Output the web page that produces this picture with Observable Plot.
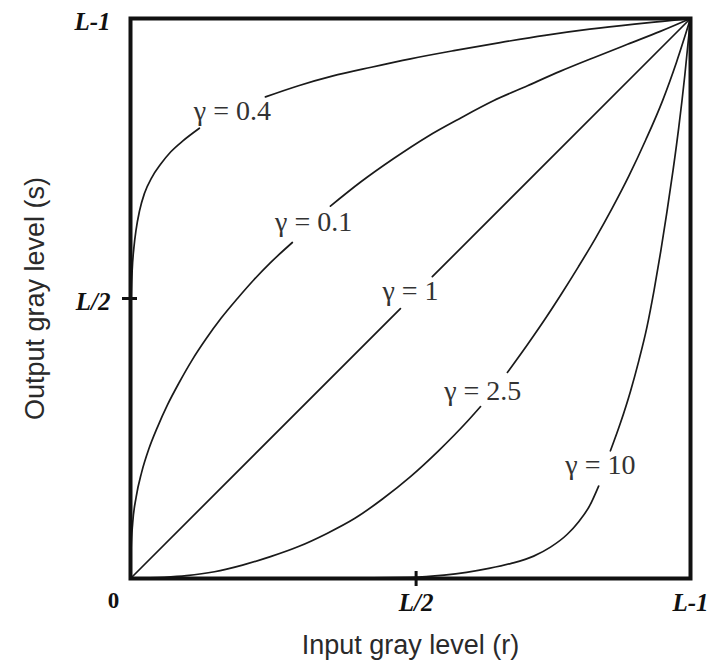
<!DOCTYPE html>
<html><head><meta charset="utf-8">
<script src="https://cdn.jsdelivr.net/npm/d3@7"></script>
<script src="https://cdn.jsdelivr.net/npm/@observablehq/plot@0.6"></script>
<style>body{margin:0;background:#fff} svg{display:block}</style>
</head><body><div id="chart"></div>
<script>
// Curve labels (as printed in the figure)
const curveNames = ["γ = 0.4", "γ = 0.1", "γ = 1", "γ = 2.5", "γ = 10"];

// Input r / output s (normalised 0..L-1 -> 0..1); NaN = gap where the label sits
const rA = [0, 0.001, 0.003, 0.006, 0.010, 0.016, 0.025, 0.038, 0.054, 0.072, 0.093, 0.123, NaN, 0.241, 0.30, 0.36, 0.43, 0.50, 0.58, 0.66, 0.74, 0.82, 0.90, 0.95, 1];
const sA = [0, 0.49, 0.55, 0.59, 0.623, 0.656, 0.688, 0.716, 0.740, 0.762, 0.781, 0.804, NaN, 0.860, 0.880, 0.897, 0.913, 0.928, 0.943, 0.957, 0.970, 0.981, 0.990, 0.995, 1];

const rB = [0, 0.001, 0.004, 0.010, 0.020, 0.033, 0.048, 0.066, 0.087, 0.110, 0.135, 0.162, 0.191, 0.220, 0.25, 0.289, NaN, 0.357, 0.411, 0.470, 0.530, 0.589, 0.648, 0.709, 0.768, 0.827, 0.8875, 0.946, 1];
const sB = [0, 0.05, 0.100, 0.145, 0.190, 0.232, 0.270, 0.310, 0.350, 0.390, 0.428, 0.465, 0.500, 0.533, 0.564, 0.600, NaN, 0.665, 0.708, 0.750, 0.789, 0.822, 0.853, 0.880, 0.906, 0.930, 0.954, 0.977, 1];

const rC = [0, 0.482, NaN, 0.539, 1];
const sC = [0, 0.482, NaN, 0.539, 1];

const rD = [0, 0.06, 0.10, 0.15, 0.20, 0.25, 0.30, 0.35, 0.40, 0.45, 0.50, 0.55, 0.60, 0.625, NaN, 0.673, 0.709, 0.74, 0.77, 0.80, 0.83, 0.86, 0.89, 0.92, 0.95, 0.975, 1];
const sD = [0, 0.002, 0.005, 0.012, 0.024, 0.039, 0.057, 0.080, 0.107, 0.142, 0.182, 0.228, 0.279, 0.307, NaN, 0.368, 0.418, 0.463, 0.509, 0.557, 0.607, 0.661, 0.719, 0.783, 0.853, 0.922, 1];

const rE = [0, 0.30, 0.50, 0.56, 0.60, 0.64, 0.68, 0.72, 0.75, 0.78, 0.80, 0.82, 0.836, NaN, 0.857, 0.875, 0.893, 0.908, 0.922, 0.935, 0.947, 0.958, 0.969, 0.979, 0.99, 1];
const sE = [0, 0, 0.002, 0.006, 0.011, 0.018, 0.027, 0.040, 0.056, 0.079, 0.101, 0.130, 0.165, NaN, 0.228, 0.278, 0.335, 0.390, 0.448, 0.515, 0.585, 0.655, 0.730, 0.805, 0.900, 1];

// Label anchor points (data units)
const labelR = [0.182, 0.327, 0.5, 0.629, 0.839];
const labelS = [0.834, 0.636, 0.5125, 0.334, 0.202];

// Axis ticks
const xTickVals = [0.51, 1];
const xTickText = ["L/2", "L-1"];
const yTickVals = [0.5, 1];
const yTickText = ["L/2", "L-1"];

const seriesR = [rA, rB, rC, rD, rE];
const seriesS = [sA, sB, sC, sD, sE];
const rows = [];
curveNames.forEach((name, k) => {
  seriesR[k].forEach((r, i) => rows.push({curve: name, r, s: seriesS[k][i]}));
});
const labels = curveNames.map((t, i) => ({t, r: labelR[i], s: labelS[i]}));
const xt = xTickVals.map((v, i) => ({v, t: xTickText[i]}));
const yt = yTickVals.map((v, i) => ({v, t: yTickText[i]}));

const tickFont = {fontFamily: "Liberation Serif", fontStyle: "italic", fontWeight: "bold", fontSize: 25, fill: "#111"};
const titleFont = {fontFamily: "Liberation Sans", fontSize: 27, fill: "#2a2a2a", textAnchor: "middle", lineAnchor: "middle"};

const chart = Plot.plot({
  width: 709,
  height: 663,
  marginLeft: 130,
  marginRight: 19,
  marginTop: 18,
  marginBottom: 85,
  x: {domain: [0, 1], axis: null},
  y: {domain: [0, 1], axis: null},
  marks: [
    Plot.line(rows, {x: "r", y: "s", z: "curve", stroke: "#1a1a1a", strokeWidth: 1.7, curve: "monotone-x"}),
    Plot.frame({stroke: "#111", strokeWidth: 4}),
    Plot.axisX([0.51], {tickSize: 15, dy: -7, tickFormat: () => "", stroke: "#111", strokeWidth: 3, label: null}),
    Plot.axisY([0.5], {tickSize: 15, dx: 7, tickFormat: () => "", stroke: "#111", strokeWidth: 3, label: null}),
    Plot.text(labels, {x: "r", y: "s", text: "t", fontFamily: "Liberation Serif", fontSize: 28, fill: "#333", lineAnchor: "middle"}),
    Plot.text(xt, {x: "v", text: "t", frameAnchor: "bottom", dy: 24, textAnchor: "middle", lineAnchor: "middle", ...tickFont}),
    Plot.text(yt, {y: "v", text: "t", frameAnchor: "left", dx: -20, dy: 3, textAnchor: "end", lineAnchor: "middle", ...tickFont}),
    Plot.text(["0"], {frameAnchor: "bottom-left", dx: -17, dy: 22, textAnchor: "middle", lineAnchor: "middle", fontFamily: "Liberation Serif", fontWeight: "bold", fontSize: 23, fill: "#111"}),
    Plot.text(["Input gray level (r)"], {frameAnchor: "bottom", dy: 67, ...titleFont}),
    Plot.text(["Output gray level (s)"], {frameAnchor: "left", dx: -95, rotate: -90, ...titleFont})
  ]
});
document.getElementById("chart").appendChild(chart);
</script>
</body></html>
